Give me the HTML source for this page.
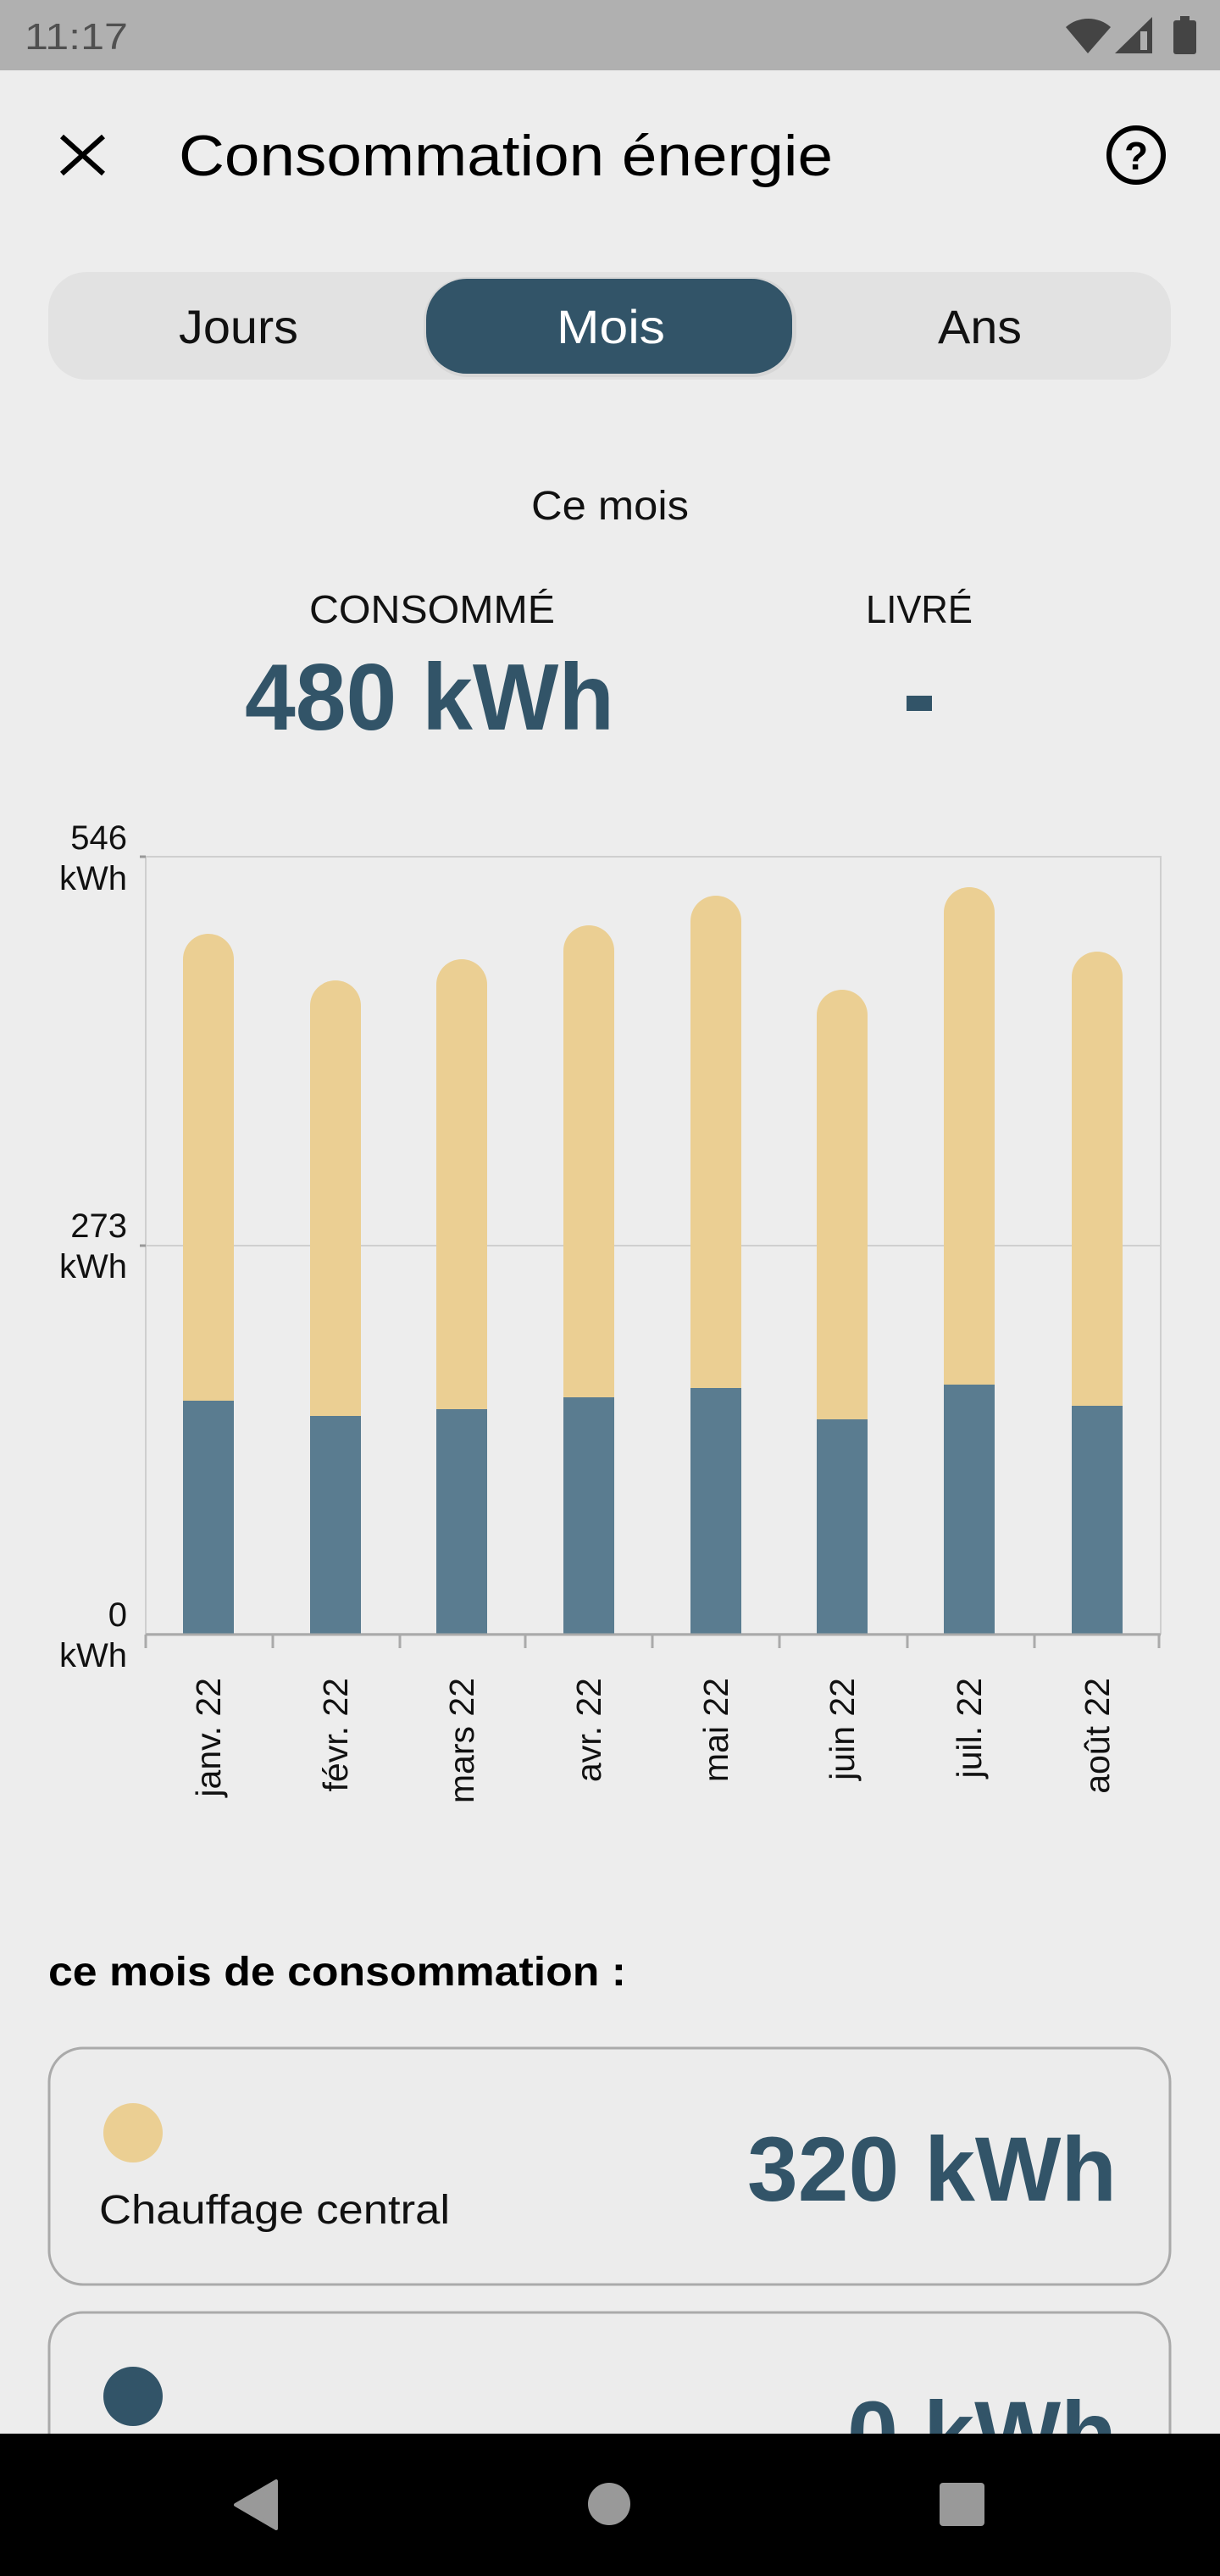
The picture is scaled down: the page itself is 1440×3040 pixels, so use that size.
<!DOCTYPE html>
<html><head><meta charset="utf-8"><style>html,body{margin:0;padding:0;background:#ededed}svg{display:block}</style></head>
<body>
<svg width="1440" height="3040" viewBox="0 0 1440 3040" xmlns="http://www.w3.org/2000/svg" font-family="'Liberation Sans', sans-serif">
<rect width="1440" height="3040" fill="#ededed"/>
<!-- status bar -->
<rect width="1440" height="83" fill="#b0b0b0"/>
<text x="29" y="58" font-size="44" fill="#505050" textLength="122" lengthAdjust="spacingAndGlyphs">11:17</text>
<path d="M1258,32 A40,40 0 0 1 1311,32 L1284,63 Z" fill="#444"/>
<path d="M1316,63 L1360,20 L1360,63 Z" fill="#444"/>
<rect x="1346" y="37" width="8" height="22" fill="#b0b0b0"/>
<rect x="1385" y="24" width="27" height="40" rx="3" fill="#444"/>
<rect x="1393" y="19" width="11" height="6" fill="#444"/>
<!-- header -->
<path d="M73,161 L122,205 M122,161 L73,205" stroke="#000" stroke-width="6"/>
<text x="211" y="207" font-size="68" fill="#000" textLength="772" lengthAdjust="spacingAndGlyphs">Consommation énergie</text>
<circle cx="1341" cy="183" r="32" fill="none" stroke="#000" stroke-width="6"/>
<text x="1341" y="200" font-size="46" font-weight="bold" text-anchor="middle" fill="#000">?</text>
<!-- segmented -->
<rect x="57" y="321" width="1325" height="127" rx="45" fill="#e2e2e2"/>
<rect x="500" y="327" width="440" height="118" rx="52" fill="#d6d6d6"/>
<rect x="503" y="329" width="432" height="112" rx="48" fill="#325468"/>
<text x="211" y="405" font-size="56" fill="#111" textLength="141" lengthAdjust="spacingAndGlyphs">Jours</text>
<text x="657" y="405" font-size="56" fill="#fff" textLength="128" lengthAdjust="spacingAndGlyphs">Mois</text>
<text x="1107" y="405" font-size="56" fill="#111" textLength="99" lengthAdjust="spacingAndGlyphs">Ans</text>
<!-- summary -->
<text x="627" y="613" font-size="48" fill="#111" textLength="186" lengthAdjust="spacingAndGlyphs">Ce mois</text>
<text x="365" y="735" font-size="46" fill="#111" textLength="290" lengthAdjust="spacingAndGlyphs">CONSOMMÉ</text>
<text x="1022" y="735" font-size="46" fill="#111" textLength="126" lengthAdjust="spacingAndGlyphs">LIVRÉ</text>
<text x="289" y="861" font-size="111" font-weight="bold" fill="#325468" textLength="436" lengthAdjust="spacingAndGlyphs">480 kWh</text>
<rect x="1070" y="821" width="30" height="18" fill="#325468"/>
<!-- chart -->
<rect x="172" y="1011" width="1198" height="917" fill="none" stroke="#cfcfcf" stroke-width="2"/>
<line x1="172" y1="1470" x2="1370" y2="1470" stroke="#cfcfcf" stroke-width="2"/>
<line x1="165" y1="1011" x2="172" y2="1011" stroke="#999" stroke-width="3"/>
<line x1="165" y1="1470" x2="172" y2="1470" stroke="#999" stroke-width="3"/>
<g fill="#ebcf93">
<path d="M216,1928 V1132 A30,30 0 0 1 276,1132 V1928 Z"/>
<path d="M366,1928 V1187 A30,30 0 0 1 426,1187 V1928 Z"/>
<path d="M515,1928 V1162 A30,30 0 0 1 575,1162 V1928 Z"/>
<path d="M665,1928 V1122 A30,30 0 0 1 725,1122 V1928 Z"/>
<path d="M815,1928 V1087 A30,30 0 0 1 875,1087 V1928 Z"/>
<path d="M964,1928 V1198 A30,30 0 0 1 1024,1198 V1928 Z"/>
<path d="M1114,1928 V1077 A30,30 0 0 1 1174,1077 V1928 Z"/>
<path d="M1265,1928 V1153 A30,30 0 0 1 1325,1153 V1928 Z"/>
</g>
<g fill="#5a7c90">
<rect x="216" y="1653" width="60" height="275"/>
<rect x="366" y="1671" width="60" height="257"/>
<rect x="515" y="1663" width="60" height="265"/>
<rect x="665" y="1649" width="60" height="279"/>
<rect x="815" y="1638" width="60" height="290"/>
<rect x="964" y="1675" width="60" height="253"/>
<rect x="1114" y="1634" width="60" height="294"/>
<rect x="1265" y="1659" width="60" height="269"/>
</g>
<line x1="172" y1="1929" x2="1370" y2="1929" stroke="#aaa" stroke-width="3"/>
<g stroke="#aaa" stroke-width="3">
<line x1="172" y1="1929" x2="172" y2="1945"/><line x1="322" y1="1929" x2="322" y2="1945"/>
<line x1="472" y1="1929" x2="472" y2="1945"/><line x1="620" y1="1929" x2="620" y2="1945"/>
<line x1="770" y1="1929" x2="770" y2="1945"/><line x1="920" y1="1929" x2="920" y2="1945"/>
<line x1="1071" y1="1929" x2="1071" y2="1945"/><line x1="1221" y1="1929" x2="1221" y2="1945"/>
<line x1="1368" y1="1929" x2="1368" y2="1945"/>
</g>
<g font-size="40" fill="#111" text-anchor="end">
<text x="150" y="1002">546</text><text x="150" y="1050">kWh</text>
<text x="150" y="1460">273</text><text x="150" y="1508">kWh</text>
<text x="150" y="1919">0</text><text x="150" y="1967">kWh</text>
</g>
<g font-size="41" fill="#111" text-anchor="end">
<text transform="translate(260,1980) rotate(-90)">janv. 22</text>
<text transform="translate(410,1980) rotate(-90)">févr. 22</text>
<text transform="translate(559,1980) rotate(-90)">mars 22</text>
<text transform="translate(709,1980) rotate(-90)">avr. 22</text>
<text transform="translate(859,1980) rotate(-90)">mai 22</text>
<text transform="translate(1008,1980) rotate(-90)">juin 22</text>
<text transform="translate(1158,1980) rotate(-90)">juil. 22</text>
<text transform="translate(1309,1980) rotate(-90)">août 22</text>
</g>
<!-- breakdown -->
<text x="57" y="2343" font-size="48" font-weight="bold" fill="#000" textLength="682" lengthAdjust="spacingAndGlyphs">ce mois de consommation :</text>
<rect x="58" y="2417" width="1323" height="279" rx="40" fill="#ececec" stroke="#aaa" stroke-width="3"/>
<circle cx="157" cy="2517" r="35" fill="#ebcf93"/>
<text x="117" y="2624" font-size="48" fill="#111" textLength="414" lengthAdjust="spacingAndGlyphs">Chauffage central</text>
<text x="1318" y="2597" font-size="108" font-weight="bold" fill="#325468" text-anchor="end" textLength="436" lengthAdjust="spacingAndGlyphs">320 kWh</text>
<rect x="58" y="2729" width="1323" height="279" rx="40" fill="#ececec" stroke="#aaa" stroke-width="3"/>
<circle cx="157" cy="2828" r="35" fill="#325468"/>
<text x="1318" y="2909" font-size="108" font-weight="bold" fill="#325468" text-anchor="end">0 kWh</text>
<!-- nav -->
<rect x="0" y="2872" width="1440" height="168" fill="#000"/>
<path d="M326,2928 L326,2984 L278,2956 Z" fill="#999" stroke="#999" stroke-width="4" stroke-linejoin="round"/>
<circle cx="719" cy="2955" r="25" fill="#999"/>
<rect x="1109" y="2930" width="53" height="51" rx="4" fill="#999"/>
</svg>
</body></html>
